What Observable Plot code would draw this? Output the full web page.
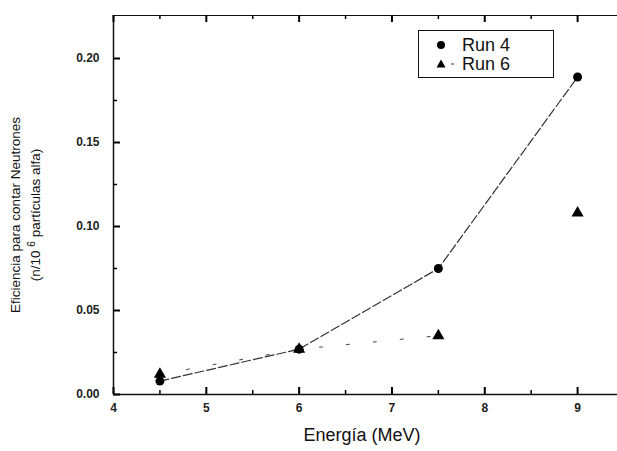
<!DOCTYPE html>
<html>
<head>
<meta charset="utf-8">
<script src="https://cdn.jsdelivr.net/npm/d3@7"></script>
<script src="https://cdn.jsdelivr.net/npm/@observablehq/plot@0.6"></script>
<style>
  html, body { margin: 0; padding: 0; background: #fff; }
  #wrap { position: relative; width: 617px; height: 451px; font-family: "Liberation Sans", Arial, sans-serif; color: #111; }
  #legend { position: absolute; left: 418px; top: 30px; width: 134px; height: 46px; border: 1px solid #111; background: #fff; font-size: 18px; }
  .row { position: absolute; left: 0; height: 20px; line-height: 20px; }
  .row svg { position: absolute; left: 16px; top: 4px; }
  .row span { position: absolute; left: 43px; white-space: nowrap; }
  #ylab { position: absolute; left: 26px; top: 215px; width: 340px; transform: translate(-50%, -50%) rotate(-90deg); text-align: center; font-size: 13.5px; line-height: 16px; }
  #xlab { position: absolute; left: 362px; top: 425px; transform: translateX(-50%); font-size: 18px; white-space: nowrap; }
</style>
</head>
<body>
<div id="wrap"></div>
<script>
// ---- data ----
const energies = [4.5, 6, 7.5, 9];
const run4 = [0.008, 0.027, 0.075, 0.189];
const run6 = [0.012, 0.027, 0.035, 0.108];
const xTicks = [4, 5, 6, 7, 8, 9];
const xMinorTicks = [4.5, 5.5, 6.5, 7.5, 8.5];
const yTicks = [0, 0.05, 0.10, 0.15, 0.20];
const yMinorTicks = [0.025, 0.075, 0.125, 0.175];
const seriesNames = ["Run 4", "Run 6"];
const xLabel = "Energía (MeV)";
const yLabel1 = "Eficiencia para contar Neutrones";
const yLabel2a = "(n/10 ";
const yLabel2sup = "6";
const yLabel2b = " partículas alfa)";

const d4 = energies.map((e, i) => ({x: e, y: run4[i]}));
const d6 = energies.map((e, i) => ({x: e, y: run6[i]}));
const d6line = d6.slice(0, 3);

const W = 617, H = 451, mL = 113, mR = 0, mT = 15, mB = 57;
const xDomain = [4, 9.43], yDomain = [0, 0.2256];
// tick lengths (pixels) converted to data units of the scales
const pxX = (xDomain[1] - xDomain[0]) / (W - mL - mR);
const pxY = (yDomain[1] - yDomain[0]) / (H - mT - mB);
const major = 7, minor = 4;

const xMajorRows = xTicks.map(v => ({x: v}));
const xMinorRows = xMinorTicks.map(v => ({x: v}));
const yMajorRows = yTicks.map(v => ({y: v}));
const yMinorRows = yMinorTicks.map(v => ({y: v}));

const chart = Plot.plot({
  width: W,
  height: H,
  marginLeft: mL,
  marginRight: mR,
  marginTop: mT,
  marginBottom: mB,
  style: {fontFamily: "Liberation Sans, Arial, sans-serif", fontSize: "12px", color: "#111", background: "#fff"},
  x: {domain: xDomain},
  y: {domain: yDomain},
  marks: [
    // frame lines (left, bottom, top)
    Plot.ruleX([xDomain[0]], {stroke: "#111", strokeWidth: 1.5}),
    Plot.ruleY([yDomain[0]], {stroke: "#111", strokeWidth: 1.5}),
    Plot.ruleY([yDomain[1]], {stroke: "#111", strokeWidth: 1.2}),
    // inward ticks: bottom / top
    Plot.ruleX(xMajorRows, {x: "x", y1: yDomain[0], y2: yDomain[0] + major * pxY, stroke: "#000", strokeWidth: 2}),
    Plot.ruleX(xMinorRows, {x: "x", y1: yDomain[0], y2: yDomain[0] + minor * pxY, stroke: "#000", strokeWidth: 1.5}),
    Plot.ruleX(xMajorRows, {x: "x", y1: yDomain[1] - major * pxY, y2: yDomain[1], stroke: "#000", strokeWidth: 2}),
    Plot.ruleX(xMinorRows, {x: "x", y1: yDomain[1] - minor * pxY, y2: yDomain[1], stroke: "#000", strokeWidth: 1.5}),
    // inward ticks: left
    Plot.ruleY(yMajorRows, {y: "y", x1: xDomain[0], x2: xDomain[0] + major * pxX, stroke: "#000", strokeWidth: 2}),
    Plot.ruleY(yMinorRows, {y: "y", x1: xDomain[0], x2: xDomain[0] + minor * pxX, stroke: "#000", strokeWidth: 1.5}),
    // tick labels
    Plot.axisX({ticks: xTicks, tickSize: 0, tickPadding: 9, label: null, fontWeight: "bold", fill: "#222", tickFormat: d3.format("d")}),
    Plot.axisY({ticks: yTicks, tickSize: 0, tickPadding: 14, label: null, fontWeight: "bold", fill: "#222", tickFormat: d3.format(".2f")}),
    // lines
    Plot.line(d6line, {x: "x", y: "y", stroke: "#444", strokeWidth: 1, strokeDasharray: "3,24"}),
    Plot.line(d4, {x: "x", y: "y", stroke: "#333", strokeWidth: 1.2, strokeDasharray: "9,3"}),
    // points
    Plot.dot(d6, {x: "x", y: "y", symbol: "triangle", r: 4.5, fill: "#000", stroke: "none"}),
    Plot.dot(d4, {x: "x", y: "y", symbol: "circle", r: 4.5, fill: "#000", stroke: "none"})
  ]
});

const wrap = document.getElementById("wrap");
wrap.appendChild(chart);
chart.style.position = "absolute";
chart.style.left = "0";
chart.style.top = "0";

const legend = document.createElement("div");
legend.id = "legend";
legend.innerHTML = `
  <div class="row" style="top:4px;width:134px">
    <svg width="12" height="12"><circle cx="6" cy="6" r="4" fill="#000"/></svg>
    <span>${seriesNames[0]}</span>
  </div>
  <div class="row" style="top:23px;width:134px">
    <svg width="24" height="12"><path d="M6,1.5 L10.5,9.5 L1.5,9.5 Z" fill="#000"/><line x1="16" y1="6" x2="19" y2="6" stroke="#333" stroke-width="1"/></svg>
    <span>${seriesNames[1]}</span>
  </div>`;
wrap.appendChild(legend);

const ylab = document.createElement("div");
ylab.id = "ylab";
ylab.innerHTML = `${yLabel1}<br>${yLabel2a}<sup style="font-size:10px">${yLabel2sup}</sup>${yLabel2b}`;
wrap.appendChild(ylab);

const xlab = document.createElement("div");
xlab.id = "xlab";
xlab.textContent = xLabel;
wrap.appendChild(xlab);
</script>
</body>
</html>
